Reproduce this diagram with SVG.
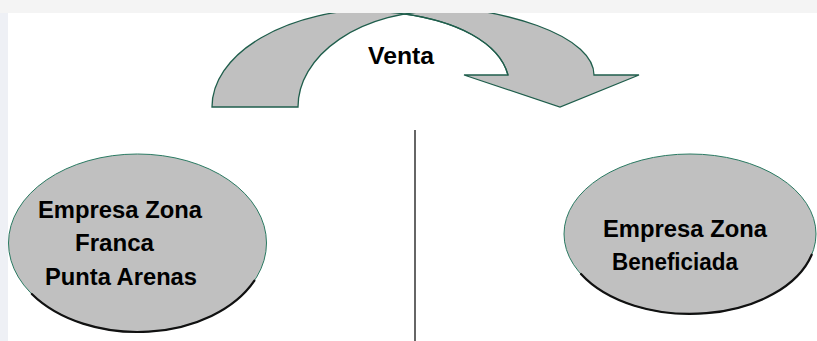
<svg xmlns="http://www.w3.org/2000/svg" width="817" height="341" viewBox="0 0 817 341">
  <style>
    .lbl { font-family: "Liberation Sans", Arial, sans-serif; font-weight: bold; font-size: 23.5px; fill: #000; }
    .shape { fill: #c0c0c0; stroke: #1f5e4c; stroke-width: 1.3; stroke-linejoin: miter; }
    .oval { fill: #c0c0c0; stroke: #2a7a62; stroke-width: 1; }
    .shadow { fill: none; stroke: #111; stroke-width: 2.2; stroke-linecap: round; }
  </style>
  <defs>
    <clipPath id="slide"><rect x="0" y="13" width="817" height="328"/></clipPath>
  </defs>
  <rect x="0" y="0" width="817" height="341" fill="#ffffff"/>
  <rect x="0" y="0" width="817" height="13" fill="#f4f4f4"/>
  <rect x="0" y="13" width="8" height="328" fill="#eef0f5"/>

  <g id="connectors">
    <g id="venta-arrow" clip-path="url(#slide)">
      <path class="shape" d="M386,8 L385,12 C460,18 500,45 508,75 L464,75 L560,107 L639,75 L594,75 A194,70 0 0 0 400,5 Z"/>
      <path class="shape" d="M212,107 A168,98 0 0 1 380,9 L440,11 A142,96 0 0 0 298,107 Z"/>
      <path fill="none" stroke="#1f5e4c" stroke-width="1.3" d="M386,12 C460,18 500,45 508,75"/>
    </g>
    <line x1="415" y1="130" x2="415" y2="341" stroke="#333" stroke-width="1.5"/>
    <text class="lbl" x="368" y="64" textLength="66" lengthAdjust="spacingAndGlyphs">Venta</text>
  </g>

  <g id="node-franca">
    <ellipse class="oval" cx="137.5" cy="243" rx="129" ry="89"/>
    <path class="shadow" d="M31.8,294 A129,89 0 0 0 254.4,280.6"/>
    <text class="lbl" x="38" y="218" textLength="164" lengthAdjust="spacingAndGlyphs">Empresa Zona</text>
    <text class="lbl" x="75" y="251" textLength="79" lengthAdjust="spacingAndGlyphs">Franca</text>
    <text class="lbl" x="45" y="285" textLength="152" lengthAdjust="spacingAndGlyphs">Punta Arenas</text>
  </g>

  <g id="node-beneficiada">
    <ellipse class="oval" cx="690" cy="234" rx="126" ry="80"/>
    <path class="shadow" d="M581,274 A126,80 0 0 0 811.7,254.7"/>
    <text class="lbl" x="603" y="237" textLength="164" lengthAdjust="spacingAndGlyphs">Empresa Zona</text>
    <text class="lbl" x="612" y="270" textLength="126" lengthAdjust="spacingAndGlyphs">Beneficiada</text>
  </g>
</svg>
